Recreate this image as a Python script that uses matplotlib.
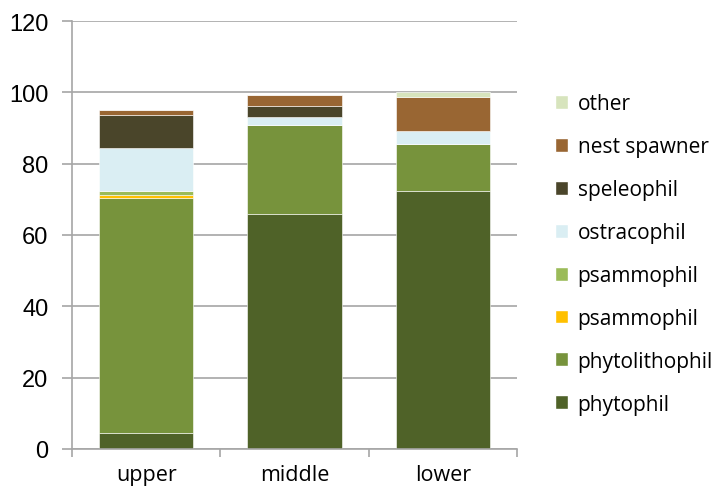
import matplotlib.pyplot as plt
import numpy as np
from matplotlib.patches import Patch

# spawning guild shares per river section
sections = ["upper", "middle", "lower"]
guilds = ["phytophil", "phytolithophil", "psammophil", "psammophil",
          "ostracophil", "speleophil", "nest spawner", "other"]
phytophil = [4.5, 65.9, 72.3]
phytolithophil = [66.0, 24.9, 13.1]
psammophil_a = [0.7, 0.0, 0.0]
psammophil_b = [1.0, 0.0, 0.0]
ostracophil = [12.1, 2.4, 3.8]
speleophil = [9.3, 2.9, 0.0]
nest_spawner = [1.4, 3.1, 9.4]
other = [0.0, 0.0, 1.4]

colors = ["#4F6228", "#77933C", "#FFC000", "#9BBB59",
          "#DAEEF3", "#4A452A", "#996633", "#D7E4BD"]

series = [phytophil, phytolithophil, psammophil_a, psammophil_b,
          ostracophil, speleophil, nest_spawner, other]

fig = plt.figure(figsize=(7.19, 4.89), dpi=100)
ax = fig.add_axes([0.1001, 0.0798, 0.6189, 0.8752])

x = np.arange(len(sections))
bottom = np.zeros(len(sections))
for vals, c in zip(series, colors):
    ax.bar(x, vals, width=0.635, bottom=bottom, color=c,
           edgecolor="white", linewidth=0.4, zorder=2)
    bottom += np.array(vals)

ax.set_xlim(-0.5, 2.5)
ax.set_ylim(0, 120)
ax.set_yticks(range(0, 121, 20))
ax.yaxis.grid(True, color="#A6A6A6", linewidth=1.2, zorder=0)
ax.set_axisbelow(True)

ax.set_xticks(x)
ax.set_xticklabels(sections, fontsize=15.5, family="Open Sans")
ax.set_xticks([-0.5, 0.5, 1.5, 2.5], minor=True)
ax.tick_params(axis="x", which="major", length=0, pad=11)
ax.tick_params(axis="x", which="minor", length=6, color="#A6A6A6", width=1.2)
ax.tick_params(axis="y", length=7, color="#A6A6A6", width=1.2,
               labelsize=17, pad=10)
for lab in ax.get_yticklabels():
    lab.set_family("Liberation Sans")

for s in ["top", "right"]:
    ax.spines[s].set_visible(False)
for s in ["left", "bottom"]:
    ax.spines[s].set_color("#A6A6A6")
    ax.spines[s].set_linewidth(1.2)

handles = [Patch(facecolor=c, edgecolor="white", label=g)
           for g, c in zip(guilds, colors)][::-1]
fig.legend(handles=handles, loc="upper left", bbox_to_anchor=(0.760, 0.824),
           frameon=False, handlelength=0.65, handleheight=0.65,
           handletextpad=0.45, labelspacing=1.05, borderaxespad=0,
           prop={"family": "Open Sans", "size": 15})

fig.savefig("out.png", dpi=100)
